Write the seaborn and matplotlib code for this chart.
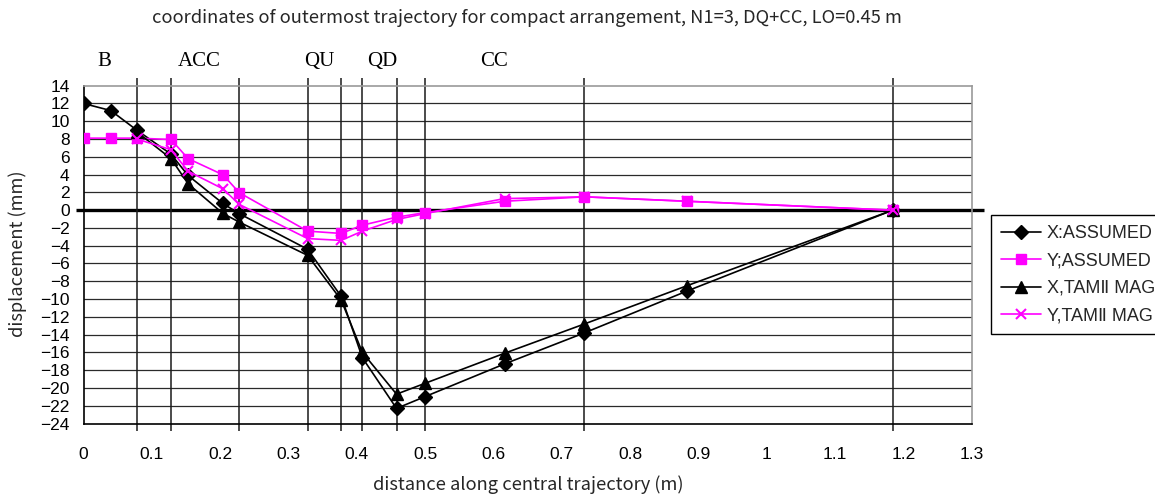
import matplotlib
matplotlib.use("Agg")
import matplotlib.pyplot as plt
import matplotlib.transforms as mtransforms
import seaborn as sns

# distance along the central trajectory (m) of each sampled point
s_assumed = [0.0, 0.04, 0.078, 0.128, 0.153, 0.204, 0.228, 0.328, 0.377,
             0.408, 0.458, 0.499, 0.616, 0.733, 0.883, 1.184]
s_tamii = [0.078, 0.128, 0.153, 0.204, 0.228, 0.328, 0.377,
           0.408, 0.458, 0.499, 0.616, 0.733, 0.883, 1.184]

# displacement of the outermost trajectory (mm)
x_assumed = [12.0, 11.2, 9.0, 6.3, 3.9, 0.75, -0.4, -4.4, -9.7,
             -16.6, -22.3, -21.0, -17.3, -13.8, -9.1, 0.0]
y_assumed = [8.1, 8.1, 8.1, 7.95, 5.8, 3.98, 1.96, -2.36, -2.62,
             -1.69, -0.79, -0.29, 1.0, 1.5, 1.0, 0.0]
x_tamii = [8.8, 5.8, 2.97, -0.37, -1.35, -5.09, -10.1,
           -16.0, -20.7, -19.5, -16.1, -12.8, -8.5, 0.0]
y_tamii = [8.0, 6.8, 4.38, 2.4, 0.64, -3.2, -3.4,
           -2.36, -1.05, -0.4, 1.3, 1.5, 1.0, 0.0]

series_labels = ["X:ASSUMED", "Y;ASSUMED", "X,TAMⅡ MAG", "Y,TAMⅡ MAG"]

# element boundaries along the beam line and the element names
boundaries = [0.078, 0.128, 0.228, 0.328, 0.377, 0.408, 0.458, 0.499, 0.733, 1.184]
element_names = ["B", "ACC", "QU", "QD", "CC"]
element_centers = [0.031, 0.170, 0.345, 0.437, 0.601]

x_ticks = [0.0, 0.1, 0.2, 0.3, 0.4, 0.5, 0.6, 0.7, 0.8, 0.9, 1.0, 1.1, 1.2, 1.3]
x_tick_labels = ["0", "0.1", "0.2", "0.3", "0.4", "0.5", "0.6", "0.7",
                 "0.8", "0.9", "1", "1.1", "1.2", "1.3"]
y_ticks = [-24, -22, -20, -18, -16, -14, -12, -10, -8, -6, -4, -2,
           0, 2, 4, 6, 8, 10, 12, 14]

sns.set_theme(style="white")
plt.rcParams["font.family"] = ["Liberation Sans", "DejaVu Sans", "Noto Sans CJK JP"]

W, H = 1155, 496
fig = plt.figure(figsize=(W / 100, H / 100), dpi=100)
left, right, top, bottom = 83.5, 972.0, 85.7, 423.5
ax = fig.add_axes([left / W, 1 - bottom / H, (right - left) / W, (bottom - top) / H])

ax.set_xlim(0, 1.3)
ax.set_ylim(-24, 14)

# horizontal grid
for v in y_ticks[1:-1]:
    if v != 0:
        ax.axhline(v, color="#2a2a2a", lw=0.9, zorder=1)

# thick zero axis, reaching a little past the plot frame
zero_tr = mtransforms.blended_transform_factory(ax.transAxes, ax.transData)
ax.plot([-0.008, 1.014], [0, 0], color="black", lw=2.4, transform=zero_tr,
        clip_on=False, zorder=2, solid_capstyle="butt")

# element boundaries
vb_tr = mtransforms.blended_transform_factory(ax.transData, ax.transAxes)
ax.vlines(boundaries, -0.021, 1.023, colors="#1a1a1a", lw=1.1,
          transform=vb_tr, clip_on=False, zorder=2)

# element names above the frame
for name, xc in zip(element_names, element_centers):
    ax.text(xc, 1.073, name, transform=vb_tr, ha="center", va="center",
            fontsize=15, family="Liberation Serif", color="black")

styles = [
    (s_assumed, x_assumed, "black", "D", 6.8, 1.0),
    (s_assumed, y_assumed, "#FF00FF", "s", 6.5, 1.0),
    (s_tamii, x_tamii, "black", "^", 8.0, 1.0),
    (s_tamii, y_tamii, "#FF00FF", "x", 7.0, 1.5),
]
for (s, v, c, m, ms, mew), lbl in zip(styles, series_labels):
    sns.lineplot(x=s, y=v, ax=ax, color=c, marker=m, markersize=ms,
                 markeredgecolor=c, markerfacecolor=c, markeredgewidth=mew,
                 linewidth=1.2, label=lbl, estimator=None, sort=False, zorder=4)

ax.set_xticks(x_ticks)
ax.set_xticklabels(x_tick_labels)
ax.set_yticks(y_ticks)
ax.tick_params(axis="x", direction="in", length=5, width=1, color="black",
               pad=17, labelsize=12.5, labelcolor="black")
ax.tick_params(axis="y", direction="in", length=5, width=1, color="black",
               pad=10, labelsize=12.5, labelcolor="black")
ax.set_xlabel("")
ax.set_ylabel("")

for side in ("left", "bottom"):
    ax.spines[side].set_color("black")
    ax.spines[side].set_linewidth(1.2)
for side in ("top", "right"):
    ax.spines[side].set_color("#999999")
    ax.spines[side].set_linewidth(1.2)

leg = ax.legend(loc="upper left", bbox_to_anchor=(991 / W, 1 - 215 / H),
                bbox_transform=fig.transFigure, frameon=True, fancybox=False,
                edgecolor="black", framealpha=1, fontsize=13,
                handlelength=2.2, handletextpad=0.35, borderpad=0.55,
                labelspacing=0.58, borderaxespad=0)
leg.get_frame().set_linewidth(1.0)

label_font = ["Noto Sans CJK JP", "DejaVu Sans"]
fig.text(527 / W, 1 - 18 / H,
         "coordinates of outermost trajectory for compact arrangement, N1=3, DQ+CC, LO=0.45 m",
         ha="center", va="center", fontsize=13.2, family=label_font)
fig.text(528 / W, 1 - 485 / H, "distance along central trajectory (m)",
         ha="center", va="center", fontsize=13.2, family=label_font)
fig.text(18 / W, 1 - 254 / H, "displacement (mm)", rotation=90,
         ha="center", va="center", fontsize=13.2, family=label_font)

fig.savefig("out.png", dpi=100)
